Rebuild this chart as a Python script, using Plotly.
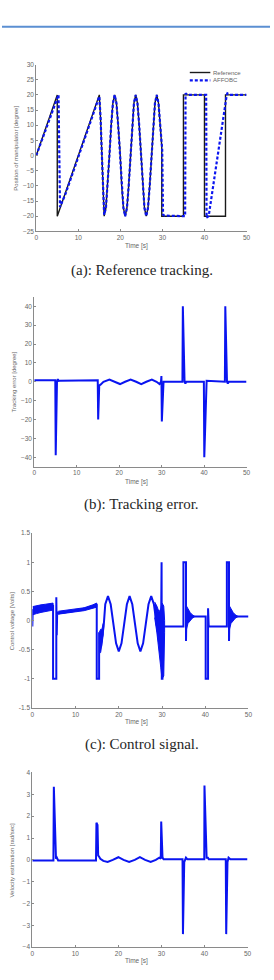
import plotly.graph_objects as go

W, H = 274, 980

# ---------------- (a) Reference tracking ----------------
ref_t = [0, 5, 5, 15, 15.3, 15.6, 15.85, 16.15, 16.57, 16.98, 17.4, 17.82, 18.23, 18.65,
         19.07, 19.48, 19.9, 20.32, 20.73, 21.15, 21.57, 21.98, 22.4, 22.82, 23.23, 23.65,
         24.07, 24.48, 24.9, 25.32, 25.73, 26.15, 26.57, 26.98, 27.4, 27.82, 28.23, 28.65,
         29.07, 29.48, 29.85, 29.85, 35, 35, 40, 40, 45, 45, 50]
ref_y = [0, 20, -20, 20, 12, 0, -12, -20, -17.3, -10, 0, 10, 17.3, 20,
         17.3, 10, 2, -10, -17.3, -20, -17.3, -10, 0, 10, 17.3, 20,
         17.3, 10, 0, -10, -17.3, -20, -17.3, -10, 0, 10, 17.3, 20,
         17.3, 10, 3, -20, -20, 20, 20, -20, -20, 20, 20]
aff_t = [0, 5.0, 5.3, 5.65, 7, 15, 15.3, 15.6, 15.85, 16.15, 16.57, 16.98, 17.4, 17.82, 18.23, 18.65,
         19.07, 19.48, 19.9, 20.32, 20.73, 21.15, 21.57, 21.98, 22.4, 22.82, 23.23, 23.65,
         24.07, 24.48, 24.9, 25.32, 25.73, 26.15, 26.57, 26.98, 27.4, 27.82, 28.23, 28.65,
         29.07, 29.48, 29.95, 30.15, 30.5, 35.4, 35.5, 36, 40.4, 40.5, 41, 45.3, 45.45, 46, 50]
aff_y = [0, 19.5, 20, -17, -12.5, 19.5, 12.5, 0.5, -11.5, -19.5, -17.3, -10, 0, 10, 17.3, 20,
         17.3, 10, 1, -10, -17.3, -20, -17.3, -10, 0, 10, 17.3, 20,
         17.3, 10, 0, -10, -17.3, -20, -17.3, -10, 0, 10, 17.3, 20,
         17.3, 10, 2, -19.5, -19.8, -20, 20.5, 20, 20, -20.5, -20, 20, 20.5, 20, 20]

# ---------------- (b) Tracking error ----------------
err_t = [0, 4.95, 5.05, 5.35, 5.55, 5.7, 6, 14.95, 15.05, 15.3, 15.6, 16.3, 17.7, 19.0, 20.2,
         21.4, 22.7, 24.0, 25.2, 26.4, 27.7, 28.8, 29.5, 29.85, 29.95, 30.05, 30.25, 30.45,
         34.9, 35.0, 35.4, 35.6, 35.8, 39.95, 40.05, 40.45, 40.6, 44.9, 45.0, 45.4, 45.6, 45.8, 50]
err_y = [0.8, 0.8, -39, 0, 1.5, 0.5, 0.6, 0.8, -20, -2, -1.5, 0, 1.2, 0, -1.2,
         0, 1.2, 0, -1.2, 0, 1.2, 0, -1.2, 0, 3, -21, -4, 0,
         0, 40, 0, -1, 0, 0, -40, 0, 0.5, 0, 40, 0, -1, 0, 0]

# ---------------- (c) Control signal ----------------
ctrl_t = [0, 0.1, 4.8, 4.8, 5.55, 5.55, 5.65, 5.75, 5.9, 6.5, 10, 14, 14.9, 14.9, 15.45, 15.45,
          15.6, 15.75, 15.9, 16.1, 16.5, 16.875, 17.5, 18.125, 18.75, 19.375, 20.0, 20.625,
          21.25, 21.875, 22.5, 23.125, 23.75, 24.375, 25.0, 25.625, 26.25, 26.875, 27.5,
          28.125, 28.75, 29.375, 29.75, 29.85, 29.9, 29.95, 30.1, 30.15, 30.3, 34.95, 34.95,
          35.55, 35.55, 35.65, 35.8, 36.0, 36.5, 37.2, 40.1, 40.1, 40.65, 40.65, 40.8, 45.0,
          45.0, 45.5, 45.5, 45.6, 45.75, 45.95, 46.45, 47.2, 50]
ctrl_y = [-0.1, 0.18, 0.25, -1, -1, 0.4, -0.25, 0.15, 0.12, 0.13, 0.17, 0.24, 0.28, -1, -1, -0.2,
          -0.52, -0.25, -0.45, -0.3, -0.1, 0.28, 0.42, 0.28, -0.055, -0.39, -0.53, -0.39,
          -0.055, 0.28, 0.42, 0.28, -0.055, -0.39, -0.53, -0.39, -0.055, 0.28, 0.42,
          0.28, -0.055, -0.39, -0.45, 1, 1, -1, -1, -0.1, -0.1, -0.1, 1,
          1, -0.35, 0.15, 0.0, 0.12, 0.06, 0.07, 0.07, -1, -1, 0.21, -0.1, -0.1,
          1, 1, -0.35, 0.15, 0.0, 0.12, 0.06, 0.07, 0.07]
# noise envelopes of the control signal (time, lower, upper)
noise1_t = [0.1, 1, 2, 3, 4, 4.8]
noise1_lo = [0.1, 0.12, 0.14, 0.16, 0.17, 0.18]
noise1_hi = [0.24, 0.26, 0.27, 0.28, 0.29, 0.3]
noise2_t = [6, 8, 10, 12, 14, 14.9]
noise2_lo = [0.11, 0.13, 0.15, 0.17, 0.21, 0.23]
noise2_hi = [0.16, 0.18, 0.19, 0.22, 0.27, 0.3]
noise3_t = [15.5, 15.8, 16.1, 16.4]
noise3_lo = [-0.55, -0.55, -0.45, -0.25]
noise3_hi = [-0.2, -0.15, -0.15, -0.05]
noise4_t = [28.3, 28.8, 29.3, 29.7, 30.0, 30.4, 30.6]
noise4_lo = [0.05, -0.2, -0.5, -0.8, -1, -0.95, -0.2]
noise4_hi = [0.32, 0.25, 0.15, 0.2, 0.3, 0.25, 0.0]
noise5_t = [35.65, 36.0, 36.5, 37.0, 37.6]
noise5_lo = [-0.15, -0.05, 0.0, 0.04, 0.07]
noise5_hi = [0.25, 0.2, 0.14, 0.1, 0.07]
noise6_t = [45.6, 45.95, 46.45, 46.95, 47.6]
noise6_lo = [-0.15, -0.05, 0.0, 0.04, 0.07]
noise6_hi = [0.25, 0.2, 0.14, 0.1, 0.07]

# ---------------- (d) Velocity estimation ----------------
vel_t = [0, 4.9, 5.0, 5.35, 5.5, 5.7, 6, 14.8, 14.9, 15.15, 15.3, 15.5, 15.8, 16.5, 17.5,
         18.7, 20.0, 21.2, 22.5, 23.8, 25.0, 26.2, 27.5, 28.7, 29.5, 29.85, 29.95, 30.25,
         30.5, 34.9, 35.0, 35.3, 35.5, 35.7, 36, 39.95, 40.0, 40.35, 40.5, 40.8, 41,
         44.95, 45.05, 45.35, 45.6, 46, 50]
vel_y = [-0.03, -0.03, 3.35, 0.1, 0.05, 0.1, -0.03, -0.03, 1.7, 1.6, 0.2, 0.15, 0.05, -0.05, -0.1,
         0, 0.12, 0, -0.1, 0, 0.12, 0, -0.1, 0, 0.1, 0.05, 1.75, 0.1,
         0.03, 0.03, -3.4, -0.1, 0.05, 0.1, 0.03, 0.03, 3.4, 0.2, 0.1, 0.1, 0.03,
         0.03, -3.4, -0.1, 0.1, 0.03, 0.03]

# ---------------- ticks & labels ----------------
x_ticks = [0, 10, 20, 30, 40, 50]
a_yticks = [-25, -20, -15, -10, -5, 0, 5, 10, 15, 20, 25, 30]
b_yticks = [-40, -30, -20, -10, 0, 10, 20, 30, 40]
c_yticks = [-1.5, -1, -0.5, 0, 0.5, 1, 1.5]
c_yticklabels = ["-1.5", "-1", "-0.5", "0", "0.5", "1", "1.5"]
d_yticks = [-4, -3, -2, -1, 0, 1, 2, 3, 4]
y_titles = ["Position of manipulator [degree]", "Tracking error [degree]",
            "Control voltage [Volts]", "Velocity estimation [rad/sec]"]
captions = ["(a): Reference tracking.", "(b): Tracking error.", "(c): Control signal."]
legend_names = ["Reference", "AFFOBC"]

BLUE = "#0a14f0"


def px_x(p):
    return p / W


def px_y(p):
    return 1 - p / H


fig = go.Figure()

# (a)
fig.add_trace(go.Scatter(x=ref_t, y=ref_y, mode="lines", line=dict(color="#1a1a1a", width=1.4),
                         xaxis="x", yaxis="y", showlegend=False))
fig.add_trace(go.Scatter(x=aff_t, y=aff_y, mode="lines",
                         line=dict(color=BLUE, width=2.2, dash="3px,2px"),
                         xaxis="x", yaxis="y", showlegend=False))
# (b)
fig.add_trace(go.Scatter(x=err_t, y=err_y, mode="lines", line=dict(color=BLUE, width=2),
                         xaxis="x2", yaxis="y2", showlegend=False))
# (c) noise bands
for nt, nlo, nhi in [(noise1_t, noise1_lo, noise1_hi), (noise2_t, noise2_lo, noise2_hi),
                     (noise3_t, noise3_lo, noise3_hi), (noise4_t, noise4_lo, noise4_hi),
                     (noise5_t, noise5_lo, noise5_hi), (noise6_t, noise6_lo, noise6_hi)]:
    fig.add_trace(go.Scatter(x=nt + nt[::-1], y=nhi + nlo[::-1], mode="lines", fill="toself",
                             fillcolor=BLUE, line=dict(color=BLUE, width=1),
                             xaxis="x3", yaxis="y3", showlegend=False))
fig.add_trace(go.Scatter(x=ctrl_t, y=ctrl_y, mode="lines", line=dict(color=BLUE, width=2),
                         xaxis="x3", yaxis="y3", showlegend=False))
# (d)
fig.add_trace(go.Scatter(x=vel_t, y=vel_y, mode="lines", line=dict(color=BLUE, width=2),
                         xaxis="x4", yaxis="y4", showlegend=False))

AX = "#8a8a8a"
TICKFONT = dict(size=6.5, color="#666666", family="Liberation Sans")

panels = [
    ((35, 250), (61, 229), [-25, 30], a_yticks, None),
    ((33, 250), (295, 466), [-45, 45], b_yticks, None),
    ((31, 252), (533, 709), [-1.5, 1.5], c_yticks, c_yticklabels),
    ((31, 251), (774, 950), [-4, 4], d_yticks, None),
]
layout = dict(width=W, height=H, margin=dict(l=0, r=0, t=0, b=0),
              paper_bgcolor="white", plot_bgcolor="white", showlegend=False)
annotations = []
for i, (xr, yr, yrange, yt, ytl) in enumerate(panels):
    sx = "" if i == 0 else str(i + 1)
    layout["xaxis" + sx] = dict(domain=[px_x(xr[0]), px_x(xr[1])], range=[0, 50],
                                anchor="y" + sx, tickvals=x_ticks, showline=True,
                                linecolor=AX, linewidth=1, ticks="inside", ticklen=2,
                                tickcolor=AX, tickfont=TICKFONT, showgrid=False,
                                zeroline=False, fixedrange=True)
    ydict = dict(domain=[px_y(yr[1]), px_y(yr[0])], range=yrange, anchor="x" + sx,
                 tickvals=yt, showline=True, linecolor=AX, linewidth=1, ticks="inside",
                 ticklen=2, tickcolor=AX, tickfont=TICKFONT, showgrid=False,
                 zeroline=False, fixedrange=True)
    if ytl is not None:
        ydict["ticktext"] = ytl
    layout["yaxis" + sx] = ydict
    # y title
    ytx = [14, 12, 10, 10][i]
    annotations.append(dict(text=y_titles[i], x=px_x(ytx), y=px_y((yr[0] + yr[1]) / 2),
                            xref="paper", yref="paper", showarrow=False, textangle=-90,
                            font=dict(size=6, color="#666666", family="Liberation Sans"),
                            xanchor="center", yanchor="middle"))
    # x title
    xty = [244, 481, 723, 964][i]
    annotations.append(dict(text="Time [s]", x=px_x(137), y=px_y(xty), xref="paper",
                            yref="paper", showarrow=False,
                            font=dict(size=6.5, color="#666666", family="Liberation Sans"),
                            xanchor="center", yanchor="middle"))

cap_y = [268, 504, 746]
for c, cy in zip(captions, cap_y):
    annotations.append(dict(text=c, x=px_x(143), y=px_y(cy), xref="paper", yref="paper",
                            showarrow=False, xanchor="center", yanchor="middle",
                            font=dict(size=15, color="#262626", family="Liberation Serif")))

# legend (panel a)
leg_y = [69, 77]
leg_styles = [dict(color="#1a1a1a", width=1.4), dict(color=BLUE, width=2.2, dash="3px,2px")]
shapes = [dict(type="line", xref="paper", yref="paper", x0=0, x1=1, y0=px_y(23), y1=px_y(23),
               line=dict(color="#5b8fd2", width=2))]
for name, ly, st in zip(legend_names, leg_y, leg_styles):
    shapes.append(dict(type="line", xref="paper", yref="paper", x0=px_x(192), x1=px_x(213),
                       y0=px_y(ly), y1=px_y(ly), line=st))
    annotations.append(dict(text=name, x=px_x(214), y=px_y(ly), xref="paper", yref="paper",
                            showarrow=False, xanchor="left", yanchor="middle",
                            font=dict(size=6, color="#666666", family="Liberation Sans")))

layout["annotations"] = annotations
layout["shapes"] = shapes
fig.update_layout(**layout)
fig.write_html("out.html")
